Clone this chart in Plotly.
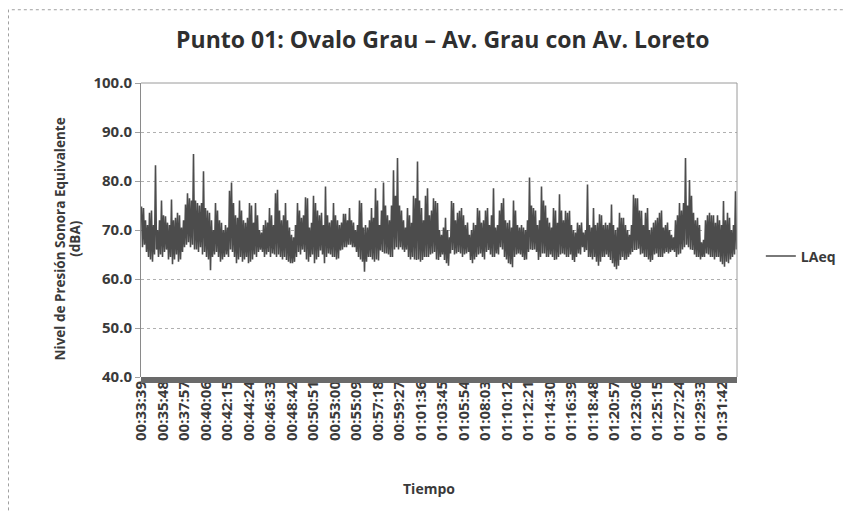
import plotly.graph_objects as go

# ---------------- data ----------------
series_name = "LAeq"
start_time = "00:33:39"
sample_step_s = 6  # one value every 6 s (high/low envelope alternating)

tick_labels = [
    "00:33:39", "00:35:48", "00:37:57", "00:40:06", "00:42:15", "00:44:24",
    "00:46:33", "00:48:42", "00:50:51", "00:53:00", "00:55:09", "00:57:18",
    "00:59:27", "01:01:36", "01:03:45", "01:05:54", "01:08:03", "01:10:12",
    "01:12:21", "01:14:30", "01:16:39", "01:18:48", "01:20:57", "01:23:06",
    "01:25:15", "01:27:24", "01:29:33", "01:31:42",
]

# upper envelope of the LAeq trace (dBA), one value per 12 s
laeq_high = [
    74.8, 74.5, 72, 71, 73.5, 74, 71, 83.2, 70, 72,
    76, 73, 72.8, 71.5, 71, 76.2, 72, 72.5, 73.5, 73,
    70.5, 72, 75.2, 77.5, 76.5, 76, 85.5, 76, 75.5, 75,
    75.5, 82, 74.5, 74, 73.5, 72, 70, 75.5, 74, 72,
    71.5, 70, 71, 70.5, 78, 79.7, 75.5, 73, 72.5, 76,
    74, 72, 71.5, 72.5, 75.5, 75, 71.5, 75.5, 73, 70,
    69.5, 71, 72, 71.5, 74.5, 73, 71, 77.5, 78.2, 74,
    72, 73, 75.5, 72, 70.5,
    69, 68.5, 71, 75.5, 74, 72.5, 73, 76.7, 76.5, 70.5,
    71.5, 77, 75.5, 74, 73, 73.5, 71, 78.9, 73, 71.5,
    72, 75.5, 73, 72, 71, 71.5, 73.3, 73.3, 72, 74.5,
    72, 71.5, 70, 71, 76, 75.5, 70.5, 71, 70.5, 72,
    74.5, 72.5, 78.5, 76, 71, 74, 79.7, 75, 73, 72,
    75, 82.2, 77, 84.7, 75, 74, 72, 70.5, 74.5, 73,
    71.5, 77, 76.5, 84, 76, 74.5, 72, 77, 78.5, 73,
    74, 76.5,
    75.9, 75.5, 70, 69, 70.5, 72.5, 70, 68.5, 75.9, 75.5,
    72, 73.5, 73.9, 74.5, 73, 71, 71.5, 69, 70, 71.5,
    71, 74.5, 74, 71.5, 72, 74, 74.5, 71, 73, 78.5,
    70.5, 71, 74, 75.5, 76.5, 72, 71.5, 72, 70.5, 76,
    74, 71, 70.5, 71, 70.5, 70, 72, 80.7, 75, 74.5,
    74, 71, 72, 78.9, 76, 75, 72.5, 71.5, 70.5, 74.5,
    74, 71.5, 77.3, 74, 72, 73.9, 73.5, 73.9, 71, 70,
    69.5, 71.5, 71,
    71.5, 69.5, 70, 79.3, 71, 70.5, 74.5, 71, 71.5, 73.2,
    73, 71, 71.5, 71, 71.5, 75.2, 71, 70, 70.5, 73.5,
    72.5, 72.5, 71, 70, 69, 71, 77.2, 76.5, 76.5, 74,
    73.9, 71, 73.5, 74.5, 70, 70.5, 71.5, 72, 72.5, 73.5,
    74, 70.5, 71, 71.5, 70, 69, 68.5, 72, 73, 75.5,
    74, 75.5, 84.7, 75, 80.2, 77, 73.5, 72, 72.5, 71,
    67.5, 68, 72, 73, 73.5, 73, 73, 71.5, 73, 72,
    71, 75.9, 72, 73.5, 72.5, 70, 71, 77.9,
]

# lower envelope of the LAeq trace (dBA), one value per 12 s
laeq_low = [
    66.5, 67, 65.5, 64.5, 64, 63.5, 65, 66, 64.5, 65,
    64.5, 65.5, 66, 64, 64.5, 63, 64, 65, 63.5, 64,
    65.5, 66.5, 67, 67.5, 66.5, 67, 66, 66, 65.5, 66.5,
    65, 65.5, 64.5, 64, 61.8, 64.5, 65, 65.5, 64.5, 63.5,
    64, 64.5, 65, 64.5, 66, 65.5, 64.5, 63.2, 64, 64.5,
    63.5, 64, 64.5, 63.2, 63.5, 64, 65, 64.5, 65.5, 66,
    65.5, 64.5, 65, 65.5, 64.5, 65.2, 65, 64.5, 65, 64.5,
    64, 64.5, 63.9, 63.5, 63.2,
    63.2, 63.5, 64.5, 65.5, 65, 66, 65.5, 64, 63.5, 64.5,
    65, 63.2, 64, 64.5, 65.8, 65, 63.2, 64.5, 65.2, 65,
    64.5, 64.5, 64, 64.2, 65.8, 66, 66.5, 66.5, 67, 67,
    66.5, 66.5, 65.5, 64.5, 64, 63.5, 61.5, 63.5, 64.5, 64.5,
    64, 63.5, 64, 63.8, 65.8, 65.5, 65.2, 65.2, 65, 64.5,
    64.5, 66, 66.5, 66, 66.5, 66, 65.5, 66, 64.5, 64,
    64.5, 64, 63.9, 64, 63.5, 63.9, 64.5, 64.5, 64.5, 65,
    65.2, 65.5,
    64, 63.9, 64.5, 65, 63.9, 63.2, 62.7, 65.2, 65.9, 65,
    65.2, 65.5, 65.2, 64.5, 65, 65.2, 65.5, 63.9, 63.2, 64,
    64.5, 65, 65.2, 64.5, 64, 65.5, 65.9, 65, 64.5, 64.5,
    65.2, 65, 66.5, 66, 64.5, 64, 63.2, 63, 62.4, 64.5,
    65, 65.2, 65, 64.5, 63.9, 64, 65.5, 66, 65.9, 66,
    65.5, 63.9, 64.5, 65.2, 65.2, 64.5, 64.5, 65, 64.5, 63.9,
    64, 64.5, 65, 65.2, 65, 64.5, 64.5, 65, 63.9, 63.5,
    64.5, 65.2, 65,
    66.5, 65.5, 65.9, 64.5, 64.5, 64, 64.5, 63.5, 62.7, 63.5,
    64.5, 64.5, 65, 64.5, 63.9, 63.2, 62.5, 62, 62.7, 63.9,
    64.5, 63.9, 64, 64.5, 65, 65.5, 65.9, 65.9, 66.2, 65,
    65.2, 64.5, 64.5, 64, 63.5, 63.9, 65, 65.2, 64.5, 64.5,
    64.5, 65.2, 65.5, 65.2, 65.5, 65.9, 65.5, 64.5, 65, 65.2,
    66, 66.5, 67, 66.5, 66, 65.9, 65, 64.5, 64.5, 64,
    64.5, 64.5, 65.2, 65, 64.5, 64.5, 64, 64.5, 64.5, 63.5,
    63, 62.5, 63.5, 63.2, 64, 64.5, 65, 66,
]

y_ticks = [40, 50, 60, 70, 80, 90, 100]

title_text = "Punto 01: Ovalo Grau – Av. Grau con Av. Loreto"
y_title_1 = "Nivel de Presión Sonora Equivalente"
y_title_2 = "(dBA)"
x_title = "Tiempo"

# ---------------- build series ----------------
def to_sec(s):
    h, m, sec = (int(p) for p in s.split(":"))
    return h * 3600 + m * 60 + sec

t0 = to_sec(start_time)
values = []
for hi, lo in zip(laeq_high, laeq_low):
    values.append(hi)
    values.append(lo)
x_vals = [i * sample_step_s for i in range(len(values))]
tick_pos = [to_sec(t) - t0 for t in tick_labels]

FONT = "Open Sans"
TXT = "#3a3a3a"
LINE = "#4c4c4c"

fig = go.Figure()
fig.add_trace(go.Scatter(
    x=x_vals, y=values, mode="lines", name=series_name,
    line=dict(color=LINE, width=1.6), hoverinfo="skip",
))

x_max = x_vals[-1]
fig.update_layout(
    width=851, height=511,
    margin=dict(l=133, r=122, t=75, b=142),
    paper_bgcolor="white", plot_bgcolor="white",
    showlegend=True,
    title=dict(text=title_text, x=0.511, xanchor="center", y=0.937, yanchor="middle",
               font=dict(family=FONT, size=23, color="#2f2f2f", weight="bold")),
    legend=dict(x=1.040, xanchor="left", y=0.41, yanchor="middle",
                font=dict(family=FONT, size=14, color=TXT, weight="bold"),
                bgcolor="rgba(0,0,0,0)"),
    xaxis=dict(
        range=[-sample_step_s / 2, x_max + sample_step_s / 2],
        tickmode="array", tickvals=tick_pos, ticktext=tick_labels,
        tickangle=-90, showgrid=False, zeroline=False, showline=False, ticks="",
        tickfont=dict(family=FONT, size=15, color=TXT, weight="bold"),
    ),
    yaxis=dict(
        range=[40, 100], tickmode="array", tickvals=y_ticks, tickformat=".1f",
        showgrid=True, gridcolor="#b0b0b0", griddash="dot", gridwidth=1,
        zeroline=False, showline=True, linecolor="#8a8a8a", linewidth=1,
        ticks="outside", ticklen=5, tickcolor="#a0a0a0",
        tickfont=dict(family=FONT, size=15, color=TXT, weight="bold"),
    ),
)

fig.add_annotation(text=y_title_1, xref="paper", yref="paper", x=-0.136, y=0.471,
                   xanchor="center", yanchor="middle", textangle=-90, showarrow=False,
                   font=dict(family=FONT, size=13.5, color=TXT, weight="bold"))
fig.add_annotation(text=y_title_2, xref="paper", yref="paper", x=-0.112, y=0.471,
                   xanchor="center", yanchor="middle", textangle=-90, showarrow=False,
                   font=dict(family=FONT, size=13.5, color=TXT, weight="bold"))
fig.add_annotation(text=x_title, xref="paper", yref="paper", x=0.484, y=-0.379,
                   xanchor="center", yanchor="middle", showarrow=False,
                   font=dict(family=FONT, size=14, color=TXT, weight="bold"))

# plot-area border (top / right) and dense category tick band at the bottom
fig.add_shape(type="line", xref="paper", yref="paper", x0=0, x1=1, y0=1, y1=1,
              line=dict(color="#9a9a9a", width=1))
fig.add_shape(type="line", xref="paper", yref="paper", x0=1, x1=1, y0=0, y1=1,
              line=dict(color="#9a9a9a", width=1))
fig.add_shape(type="rect", xref="paper", yref="paper", x0=0, x1=1, y0=-0.0203, y1=0.0,
              fillcolor="#6a6a6a", line=dict(width=0))
# dotted outer chart border
fig.add_shape(type="rect", xref="paper", yref="paper",
              x0=-0.2223, x1=1.2039, y0=-0.4797, y1=1.2492,
              line=dict(color="#a0a0a0", width=1, dash="dot"))

fig.write_html("out.html")
